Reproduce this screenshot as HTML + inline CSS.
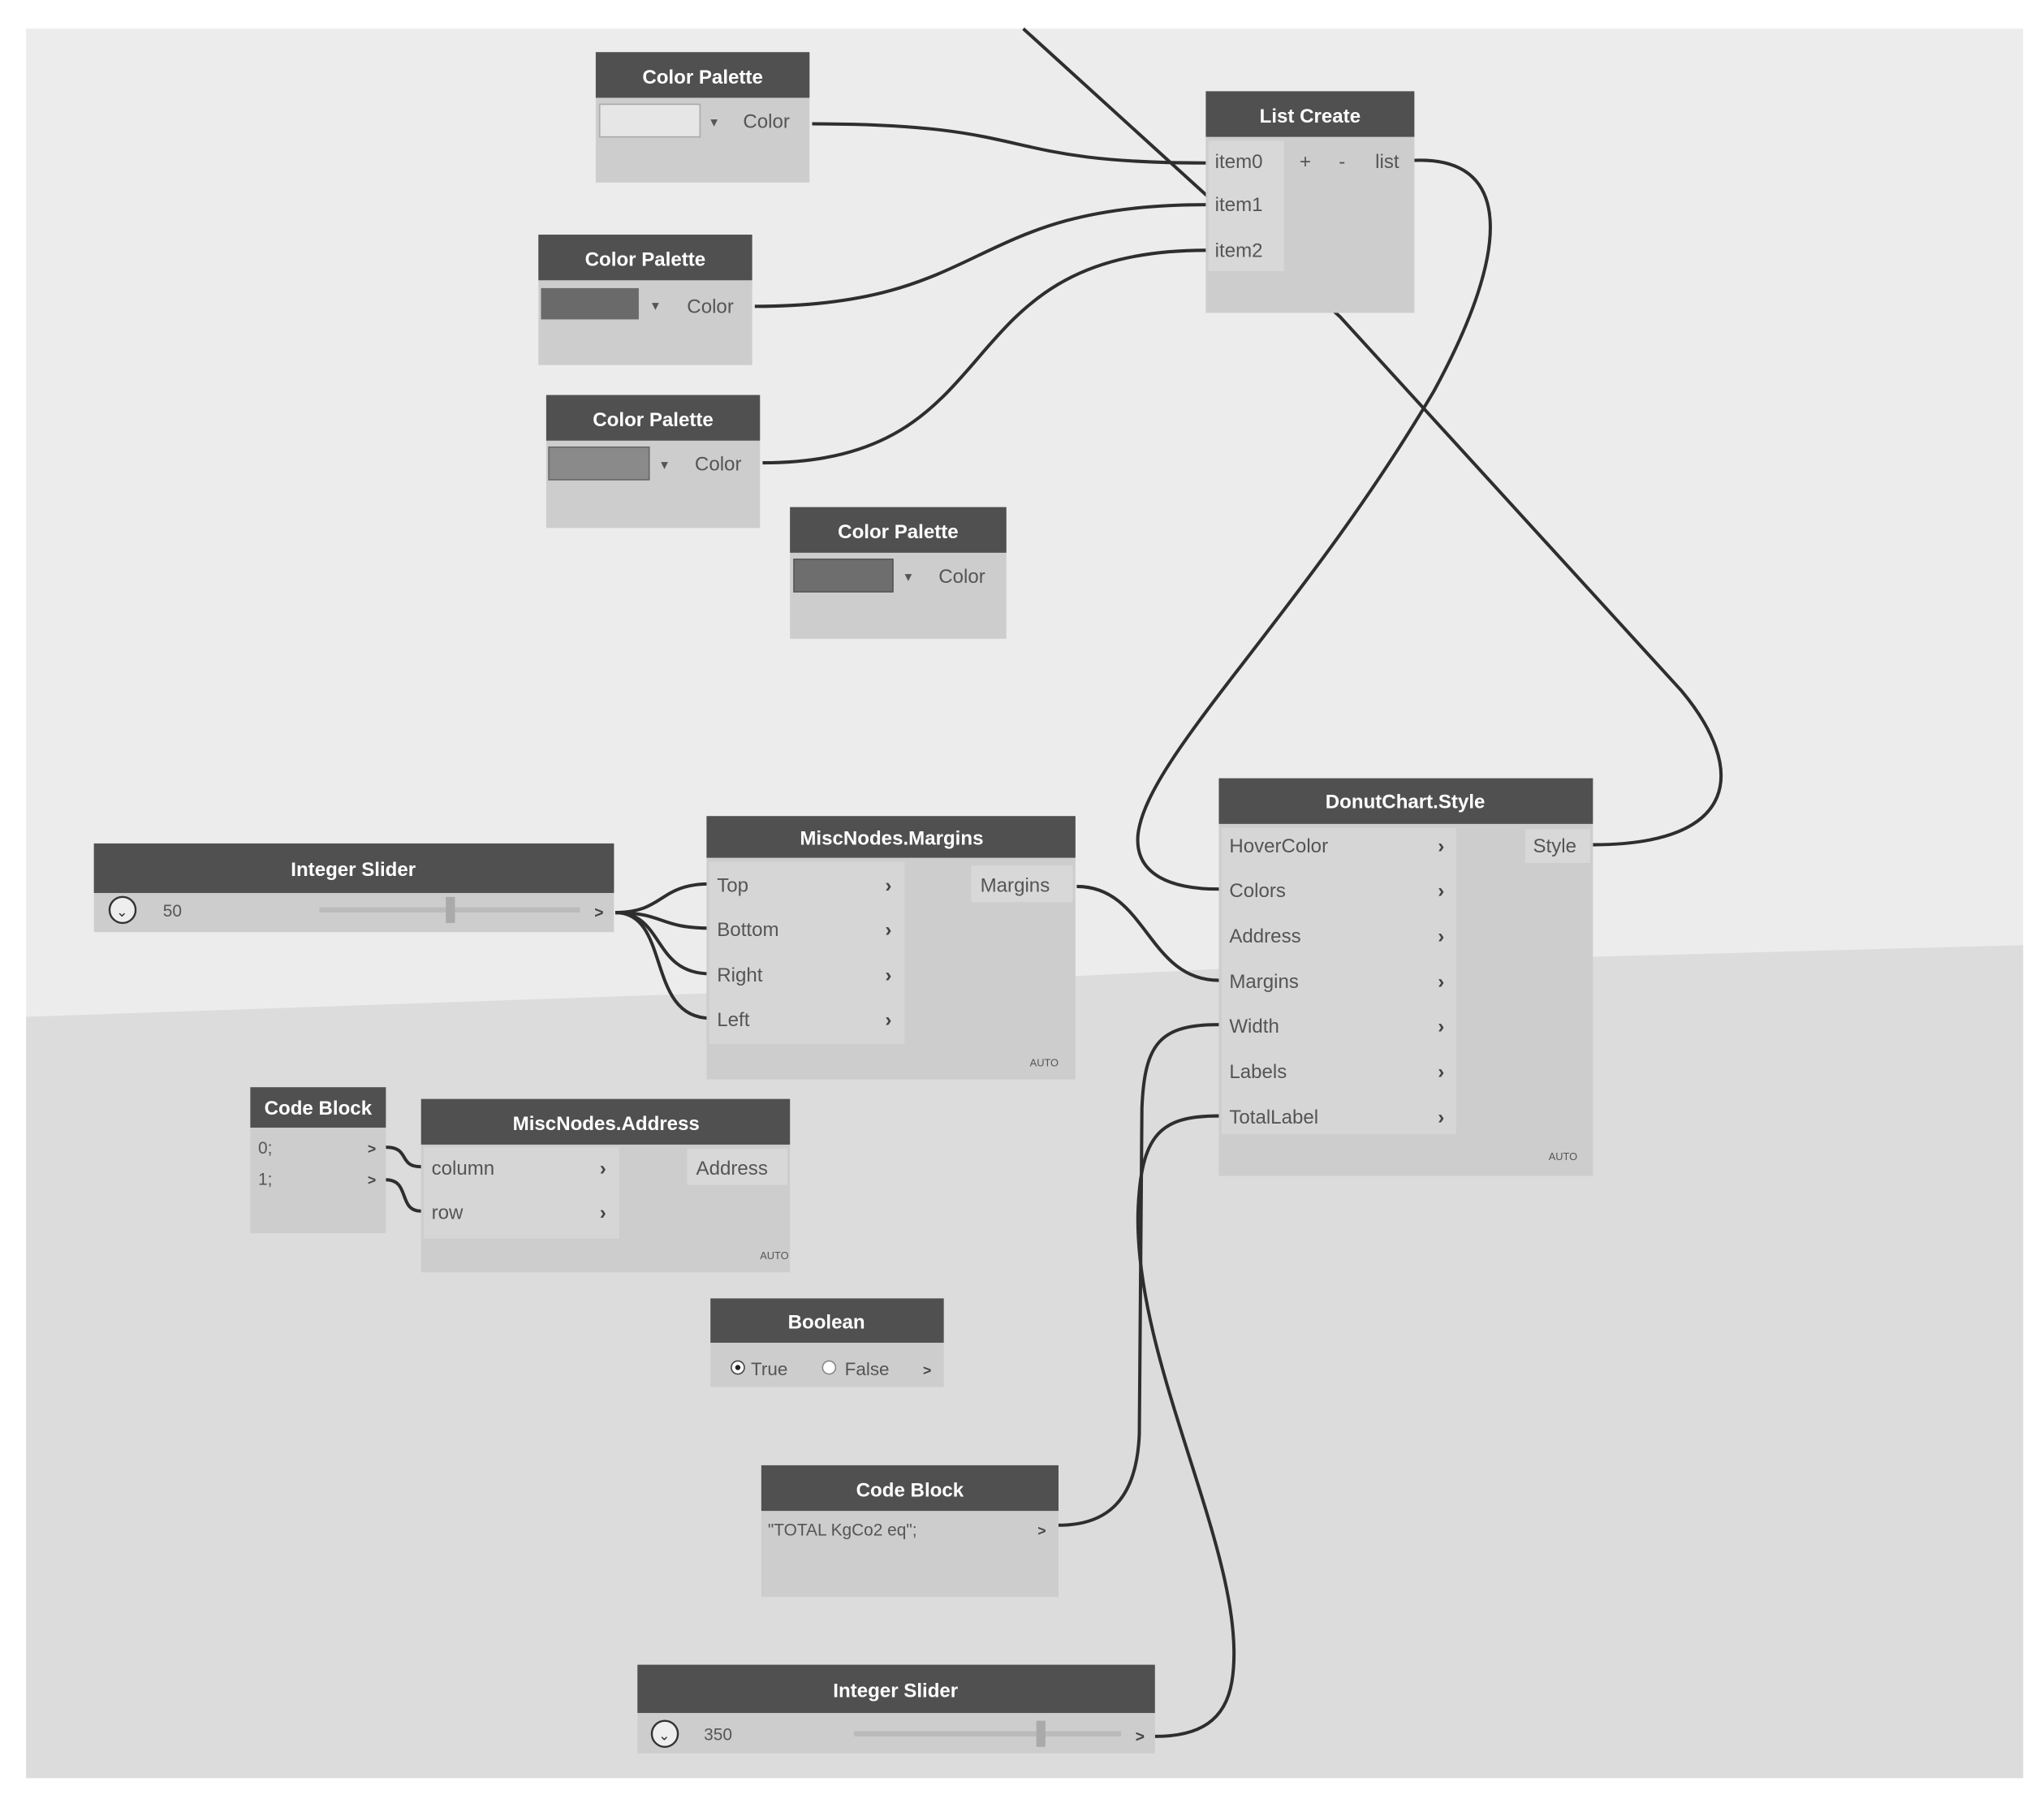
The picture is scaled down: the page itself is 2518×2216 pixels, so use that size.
<!DOCTYPE html>
<html><head><meta charset="utf-8"><style>
html,body{margin:0;padding:0;background:#fff;width:2518px;height:2216px;overflow:hidden}
svg{display:block}
text{font-family:"Liberation Sans",sans-serif}
.h{fill:#fff;font-size:15px;text-anchor:middle;font-weight:bold}
.p{fill:#555;font-size:15px}
.a{fill:#444;font-size:15px;font-weight:bold}
.w{fill:none;stroke:#2e2e2e;stroke-width:2.5}
</style></head><body>
<svg width="2518" height="2216" viewBox="0 0 1568 1380" xmlns="http://www.w3.org/2000/svg">
<rect x="0" y="0" width="1568" height="1380" fill="#fff"/>
<rect x="20" y="22" width="1532" height="1342" fill="#ececec"/>
<polygon points="20,780 600,760 1000,740 1552,725 1552,1364 20,1364" fill="#dcdcdc"/>

<!-- wires -->
<path class="w" d="M785,22 L1028,243 L1290,530 C1340,590 1335,648 1222,648"/>
<path class="w" d="M623,95 C800,95 760,125 925,125"/>
<path class="w" d="M579,235 C760,235 740,157 925,157"/>
<path class="w" d="M585,355 C780,355 720,192 925,192"/>
<path class="w" d="M1085,123 C1160,120 1160,190 1100,300 C1000,470 880,580 873,640 C870,672 900,682 935,682"/>
<path class="w" d="M472,700 C510,700 505,678 545,678"/>
<path class="w" d="M472,700 C510,700 505,712 545,712"/>
<path class="w" d="M472,700 C510,700 500,747 545,747"/>
<path class="w" d="M472,700 C515,700 495,781 545,781"/>
<path class="w" d="M826,680 C880,680 880,752 935,752"/>
<path class="w" d="M296,880 C315,880 305,895 323,895"/>
<path class="w" d="M296,905 C315,905 305,929 323,929"/>
<path class="w" d="M935,786 C890,786 878,800 876,850 L874,1100 C872,1150 850,1170 812,1170"/>
<path class="w" d="M935,856 C890,856 875,870 873,930 C870,1050 960,1200 945,1290 C940,1320 920,1332 886,1332"/>

<!-- Color Palette 1 -->
<rect x="457" y="40" width="164" height="100" fill="#cdcdcd"/><rect x="457" y="40" width="164" height="35" fill="#505050"/>
<text class="h" x="539" y="64">Color Palette</text>
<rect x="460" y="80" width="77" height="25" fill="#e6e6e6" stroke="#aaa"/><text class="p" x="545" y="97" style="font-size:11px">▾</text><text class="p" x="570" y="98">Color</text>
<!-- Color Palette 2 -->
<rect x="413" y="180" width="164" height="100" fill="#cdcdcd"/><rect x="413" y="180" width="164" height="35" fill="#505050"/>
<text class="h" x="495" y="204">Color Palette</text>
<rect x="415" y="221" width="75" height="24" fill="#6a6a6a"/><text class="p" x="500" y="238" style="font-size:11px">▾</text><text class="p" x="527" y="240">Color</text>
<!-- Color Palette 3 -->
<rect x="419" y="303" width="164" height="102" fill="#cdcdcd"/><rect x="419" y="303" width="164" height="35" fill="#505050"/>
<text class="h" x="501" y="327">Color Palette</text>
<rect x="421" y="343" width="77" height="25" fill="#8a8a8a" stroke="#666"/><text class="p" x="507" y="360" style="font-size:11px">▾</text><text class="p" x="533" y="361">Color</text>
<!-- Color Palette 4 -->
<rect x="606" y="389" width="166" height="101" fill="#cdcdcd"/><rect x="606" y="389" width="166" height="35" fill="#505050"/>
<text class="h" x="689" y="413">Color Palette</text>
<rect x="609" y="429" width="76" height="25" fill="#6e6e6e" stroke="#555"/><text class="p" x="694" y="446" style="font-size:11px">▾</text><text class="p" x="720" y="447">Color</text>

<!-- List Create -->
<rect x="925" y="70" width="160" height="170" fill="#cdcdcd"/><rect x="925" y="70" width="160" height="35" fill="#505050"/>
<text class="h" x="1005" y="94">List Create</text>
<rect x="927" y="108" width="58" height="100" fill="#d8d8d8"/>
<text class="p" x="932" y="129">item0</text><text class="p" x="932" y="162">item1</text><text class="p" x="932" y="197">item2</text>
<text class="p" x="997" y="129">+</text><text class="p" x="1027" y="129">-</text><text class="p" x="1055" y="129">list</text>

<!-- DonutChart.Style -->
<rect x="935" y="597" width="287" height="305" fill="#cdcdcd"/><rect x="935" y="597" width="287" height="35" fill="#505050"/>
<text class="h" x="1078" y="620">DonutChart.Style</text>
<rect x="937" y="635" width="180" height="235" fill="#d6d6d6"/>
<g class="p"><text x="943" y="654">HoverColor</text><text x="943" y="688">Colors</text><text x="943" y="723">Address</text><text x="943" y="758">Margins</text><text x="943" y="792">Width</text><text x="943" y="827">Labels</text><text x="943" y="862">TotalLabel</text></g>
<g class="a"><text x="1103" y="654">›</text><text x="1103" y="688">›</text><text x="1103" y="723">›</text><text x="1103" y="758">›</text><text x="1103" y="792">›</text><text x="1103" y="827">›</text><text x="1103" y="862">›</text></g>
<rect x="1170" y="636" width="50" height="26" fill="#d8d8d8"/><text class="p" x="1176" y="654">Style</text>
<text class="p" x="1188" y="890" style="font-size:8px">AUTO</text>

<!-- Integer Slider 1 -->
<rect x="72" y="647" width="399" height="68" fill="#cdcdcd"/><rect x="72" y="647" width="399" height="38" fill="#505050"/>
<text class="h" x="271" y="672">Integer Slider</text>
<circle cx="94" cy="698" r="10" fill="#eee" stroke="#333" stroke-width="1.5"/><text x="89" y="703" style="font-size:11px" fill="#333">⌄</text>
<text class="p" x="125" y="703" style="font-size:13px">50</text>
<rect x="245" y="696" width="200" height="4" fill="#bbb"/><rect x="342" y="688" width="7" height="20" fill="#aaa"/>
<text class="a" x="456" y="704" style="font-size:12px">&gt;</text>

<!-- MiscNodes.Margins -->
<rect x="542" y="626" width="283" height="202" fill="#cdcdcd"/><rect x="542" y="626" width="283" height="32" fill="#505050"/>
<text class="h" x="684" y="648">MiscNodes.Margins</text>
<rect x="544" y="661" width="150" height="140" fill="#d6d6d6"/>
<g class="p"><text x="550" y="684">Top</text><text x="550" y="718">Bottom</text><text x="550" y="753">Right</text><text x="550" y="787">Left</text></g>
<g class="a"><text x="679" y="684">›</text><text x="679" y="718">›</text><text x="679" y="753">›</text><text x="679" y="787">›</text></g>
<rect x="745" y="664" width="78" height="28" fill="#d8d8d8"/><text class="p" x="752" y="684">Margins</text>
<text class="p" x="790" y="818" style="font-size:8px">AUTO</text>

<!-- Code Block 1 -->
<rect x="192" y="834" width="104" height="112" fill="#cdcdcd"/><rect x="192" y="834" width="104" height="31" fill="#505050"/>
<text class="h" x="244" y="855">Code Block</text>
<text x="198" y="885" font-family="Liberation Mono" font-size="13" fill="#555">0;</text><text x="198" y="909" font-family="Liberation Mono" font-size="13" fill="#555">1;</text>
<text class="a" x="282" y="885" style="font-size:11px">&gt;</text><text class="a" x="282" y="909" style="font-size:11px">&gt;</text>

<!-- MiscNodes.Address -->
<rect x="323" y="843" width="283" height="133" fill="#cdcdcd"/><rect x="323" y="843" width="283" height="35" fill="#505050"/>
<text class="h" x="465" y="867">MiscNodes.Address</text>
<rect x="325" y="880" width="150" height="70" fill="#d6d6d6"/>
<text class="p" x="331" y="901">column</text><text class="p" x="331" y="935">row</text>
<text class="a" x="460" y="901">›</text><text class="a" x="460" y="935">›</text>
<rect x="527" y="881" width="77" height="28" fill="#d8d8d8"/><text class="p" x="534" y="901">Address</text>
<text class="p" x="583" y="966" style="font-size:8px">AUTO</text>

<!-- Boolean -->
<rect x="545" y="996" width="179" height="68" fill="#cdcdcd"/><rect x="545" y="996" width="179" height="34" fill="#505050"/>
<text class="h" x="634" y="1019">Boolean</text>
<circle cx="566" cy="1049" r="5" fill="#fff" stroke="#444"/><circle cx="566" cy="1049" r="2" fill="#222"/>
<text class="p" x="576" y="1055" style="font-size:14px">True</text>
<circle cx="636" cy="1049" r="5" fill="#fff" stroke="#888"/><text class="p" x="648" y="1055" style="font-size:14px">False</text>
<text class="a" x="708" y="1055" style="font-size:11px">&gt;</text>

<!-- Code Block 2 -->
<rect x="584" y="1124" width="228" height="101" fill="#cdcdcd"/><rect x="584" y="1124" width="228" height="35" fill="#505050"/>
<text class="h" x="698" y="1148">Code Block</text>
<text x="589" y="1178" font-family="Liberation Mono" font-size="13" fill="#555">"TOTAL KgCo2 eq";</text>
<text class="a" x="796" y="1178" style="font-size:11px">&gt;</text>

<!-- Integer Slider 2 -->
<rect x="489" y="1277" width="397" height="68" fill="#cdcdcd"/><rect x="489" y="1277" width="397" height="37" fill="#505050"/>
<text class="h" x="687" y="1302">Integer Slider</text>
<circle cx="510" cy="1330" r="10" fill="#eee" stroke="#333" stroke-width="1.5"/><text x="505" y="1335" style="font-size:11px" fill="#333">⌄</text>
<text class="p" x="540" y="1335" style="font-size:13px">350</text>
<rect x="655" y="1328" width="205" height="4" fill="#bbb"/><rect x="795" y="1320" width="7" height="20" fill="#aaa"/>
<text class="a" x="871" y="1336" style="font-size:12px">&gt;</text>
</svg>
</body></html>
